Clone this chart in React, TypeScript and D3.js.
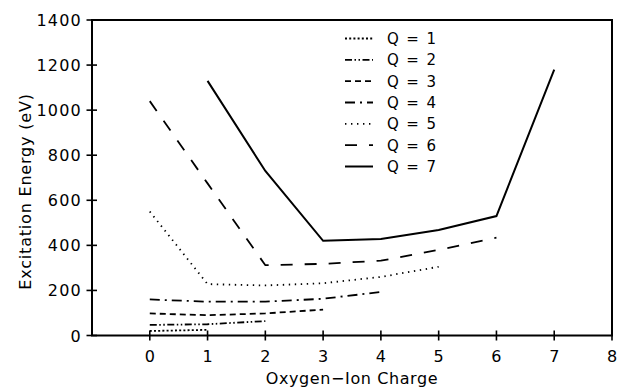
import React from "react";
import * as d3 from "d3";

const W = 618;
const H = 388;

const xTicks = [0, 1, 2, 3, 4, 5, 6, 7, 8];
const yTicks = [0, 200, 400, 600, 800, 1000, 1200, 1400];

const seriesNames = ["Q = 1", "Q = 2", "Q = 3", "Q = 4", "Q = 5", "Q = 6", "Q = 7"];
const q1Charge = [0, 1];
const q1Energy = [20, 25];
const q2Charge = [0, 1, 2];
const q2Energy = [47, 50, 64];
const q3Charge = [0, 1, 2, 3];
const q3Energy = [98, 90, 98, 115];
const q4Charge = [0, 1, 2, 3, 4];
const q4Energy = [160, 150, 150, 163, 193];
const q5Charge = [0, 1, 2, 3, 4, 5];
const q5Energy = [550, 228, 222, 232, 260, 305];
const q6Charge = [0, 1, 2, 3, 4, 5, 6];
const q6Energy = [1040, 675, 312, 318, 332, 380, 434];
const q7Charge = [1, 2, 3, 4, 5, 6, 7];
const q7Energy = [1130, 730, 420, 428, 468, 530, 1180];

const dashes = ["2,2.2", "7,2.5,1.5,2.5,1.5,2.5", "6,4", "10,5,2,5", "1.4,4.6", "12,12", ""];

const charges = [q1Charge, q2Charge, q3Charge, q4Charge, q5Charge, q6Charge, q7Charge];
const energies = [q1Energy, q2Energy, q3Energy, q4Energy, q5Energy, q6Energy, q7Energy];

const FONT = "'DejaVu Sans', sans-serif";

export default function App() {
  const x = d3.scaleLinear().domain([-1, 8]).range([92, 612]);
  const y = d3.scaleLinear().domain([0, 1400]).range([335.5, 20]);
  const line = d3
    .line<[number, number]>()
    .x((d) => x(d[0]))
    .y((d) => y(d[1]));

  const legendY = d3.scaleLinear().domain([0, 6]).range([38.5, 166.5]);

  return (
    <div style={{ position: "fixed", left: 0, top: 0 }}>
      <svg width={W} height={H} style={{ display: "block", background: "#fff" }}>
        <rect x={0} y={0} width={W} height={H} fill="#fff" />
        {/* frame */}
        <rect
          x={x(-1)}
          y={y(1400)}
          width={x(8) - x(-1)}
          height={y(0) - y(1400)}
          fill="none"
          stroke="#000"
          strokeWidth={2}
        />
        {/* y ticks */}
        {yTicks.map((t) => (
          <g key={"y" + t}>
            <line x1={x(-1) - 5.5} x2={x(-1) + 5} y1={y(t)} y2={y(t)} stroke="#000" strokeWidth={1.6} />
            <text
              x={82}
              y={y(t) + 6}
              textAnchor="end"
              fontFamily={FONT}
              fontSize={16}
              letterSpacing={1.2}
              fill="#000"
            >
              {t}
            </text>
          </g>
        ))}
        {/* x ticks */}
        {xTicks.map((t) => (
          <g key={"x" + t}>
            <line x1={x(t)} x2={x(t)} y1={y(0) - 5} y2={y(0) + 5} stroke="#000" strokeWidth={1.6} />
            <text
              x={x(t) + 0.6}
              y={362}
              textAnchor="middle"
              fontFamily={FONT}
              fontSize={16}
              letterSpacing={1.2}
              fill="#000"
            >
              {t}
            </text>
          </g>
        ))}
        {/* axis titles */}
        <text
          x={352}
          y={384}
          textAnchor="middle"
          fontFamily={FONT}
          fontSize={16}
          letterSpacing={0.6}
          fill="#000"
        >
          Oxygen−Ion Charge
        </text>
        <text
          transform={`translate(31,191.5) rotate(-90)`}
          textAnchor="middle"
          fontFamily={FONT}
          fontSize={16}
          letterSpacing={0.8}
          fill="#000"
        >
          Excitation Energy (eV)
        </text>
        {/* series */}
        {energies.map((vals, i) => {
          const pts: [number, number][] = vals.map((v, j) => [charges[i][j], v]);
          return (
            <path
              key={"s" + i}
              d={line(pts) || ""}
              fill="none"
              stroke="#000"
              strokeWidth={i === 6 ? 2 : 1.8}
              strokeDasharray={dashes[i] || undefined}
              strokeLinejoin="miter"
            />
          );
        })}
        {/* legend */}
        {seriesNames.map((name, i) => (
          <g key={"l" + i}>
            <line
              x1={345}
              x2={373}
              y1={legendY(i)}
              y2={legendY(i)}
              stroke="#000"
              strokeWidth={i === 6 ? 2 : 1.8}
              strokeDasharray={dashes[i] || undefined}
            />
            <text
              x={387}
              y={legendY(i) + 5.5}
              fontFamily={FONT}
              fontSize={15}
              letterSpacing={1.4}
              fill="#000"
            >
              {name}
            </text>
          </g>
        ))}
      </svg>
    </div>
  );
}
